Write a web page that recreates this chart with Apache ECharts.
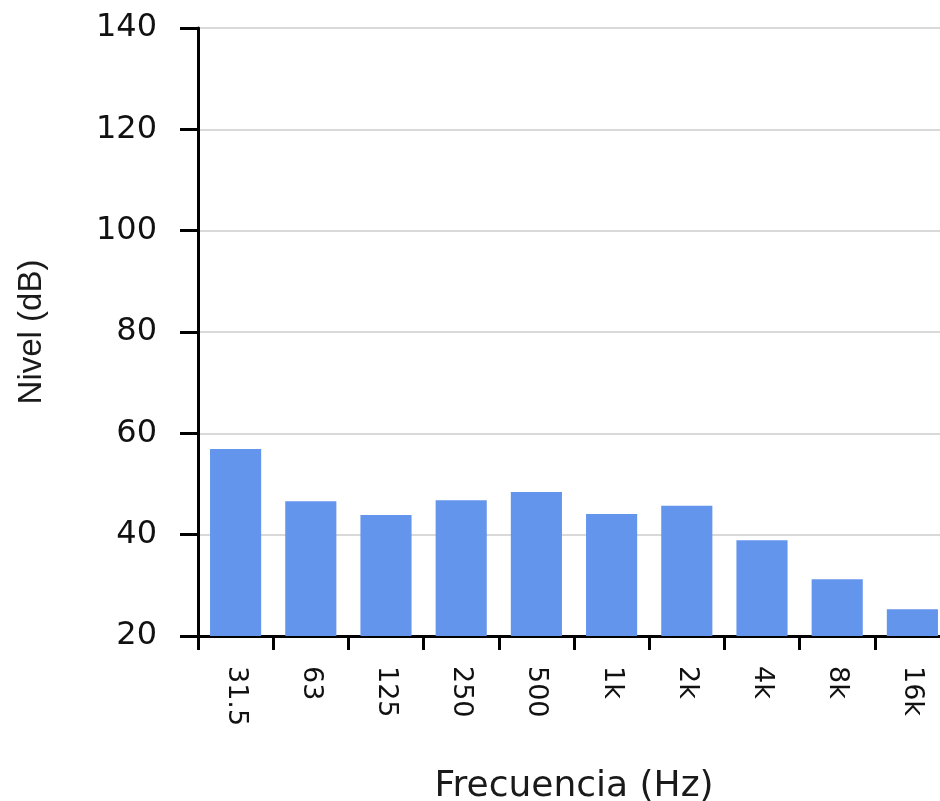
<!DOCTYPE html>
<html>
<head>
<meta charset="utf-8">
<script src="https://cdn.jsdelivr.net/npm/echarts@6/dist/echarts.min.js"></script>
<style>html,body{margin:0;padding:0;background:#fff;}#c{width:940px;height:801px;}</style>
</head>
<body>
<div id="c"></div>
<script>
var categories = ['31.5', '63', '125', '250', '500', '1k', '2k', '4k', '8k', '16k'];
var levels = [56.9, 46.6, 43.9, 46.8, 48.4, 44.1, 45.7, 38.9, 31.2, 25.3];
var yMin = 20, yMax = 140, yStep = 20;

var chart = echarts.init(document.getElementById('c'), null, {renderer: 'canvas'});
chart.setOption({
  animation: false,
  backgroundColor: '#ffffff',
  grid: {left: 198, top: 28, bottom: 165, right: -10, containLabel: false, outerBoundsMode: 'none'},
  xAxis: {
    type: 'category',
    data: categories,
    name: 'Frecuencia (Hz)',
    nameLocation: 'middle',
    nameGap: 133,
    nameTextStyle: {fontFamily: 'DejaVu Sans', fontSize: 36, color: '#1a1a1a'},
    axisLine: {lineStyle: {color: '#000', width: 3}},
    axisTick: {show: true, length: 14, lineStyle: {color: '#000', width: 3}},
    axisLabel: {rotate: -90, margin: 30, fontFamily: 'DejaVu Sans', fontSize: 27, color: '#111'},
    splitLine: {show: false}
  },
  yAxis: {
    type: 'value',
    min: yMin, max: yMax, interval: yStep,
    name: 'Nivel (dB)',
    nameLocation: 'middle',
    nameGap: 150,
    nameRotate: 90,
    nameTextStyle: {fontFamily: '"Liberation Sans", Arial, sans-serif', fontSize: 33, color: '#1a1a1a'},
    axisLine: {show: true, lineStyle: {color: '#000', width: 3}},
    axisTick: {show: true, length: 18, lineStyle: {color: '#000', width: 3}},
    axisLabel: {margin: 41, fontFamily: 'DejaVu Sans', fontSize: 32, color: '#111'},
    splitLine: {show: true, lineStyle: {color: '#d9d9d9', width: 2}}
  },
  series: [{
    type: 'bar',
    data: levels,
    barCategoryGap: '32%',
    itemStyle: {color: '#6495ed'}
  }]
});
</script>
</body>
</html>
